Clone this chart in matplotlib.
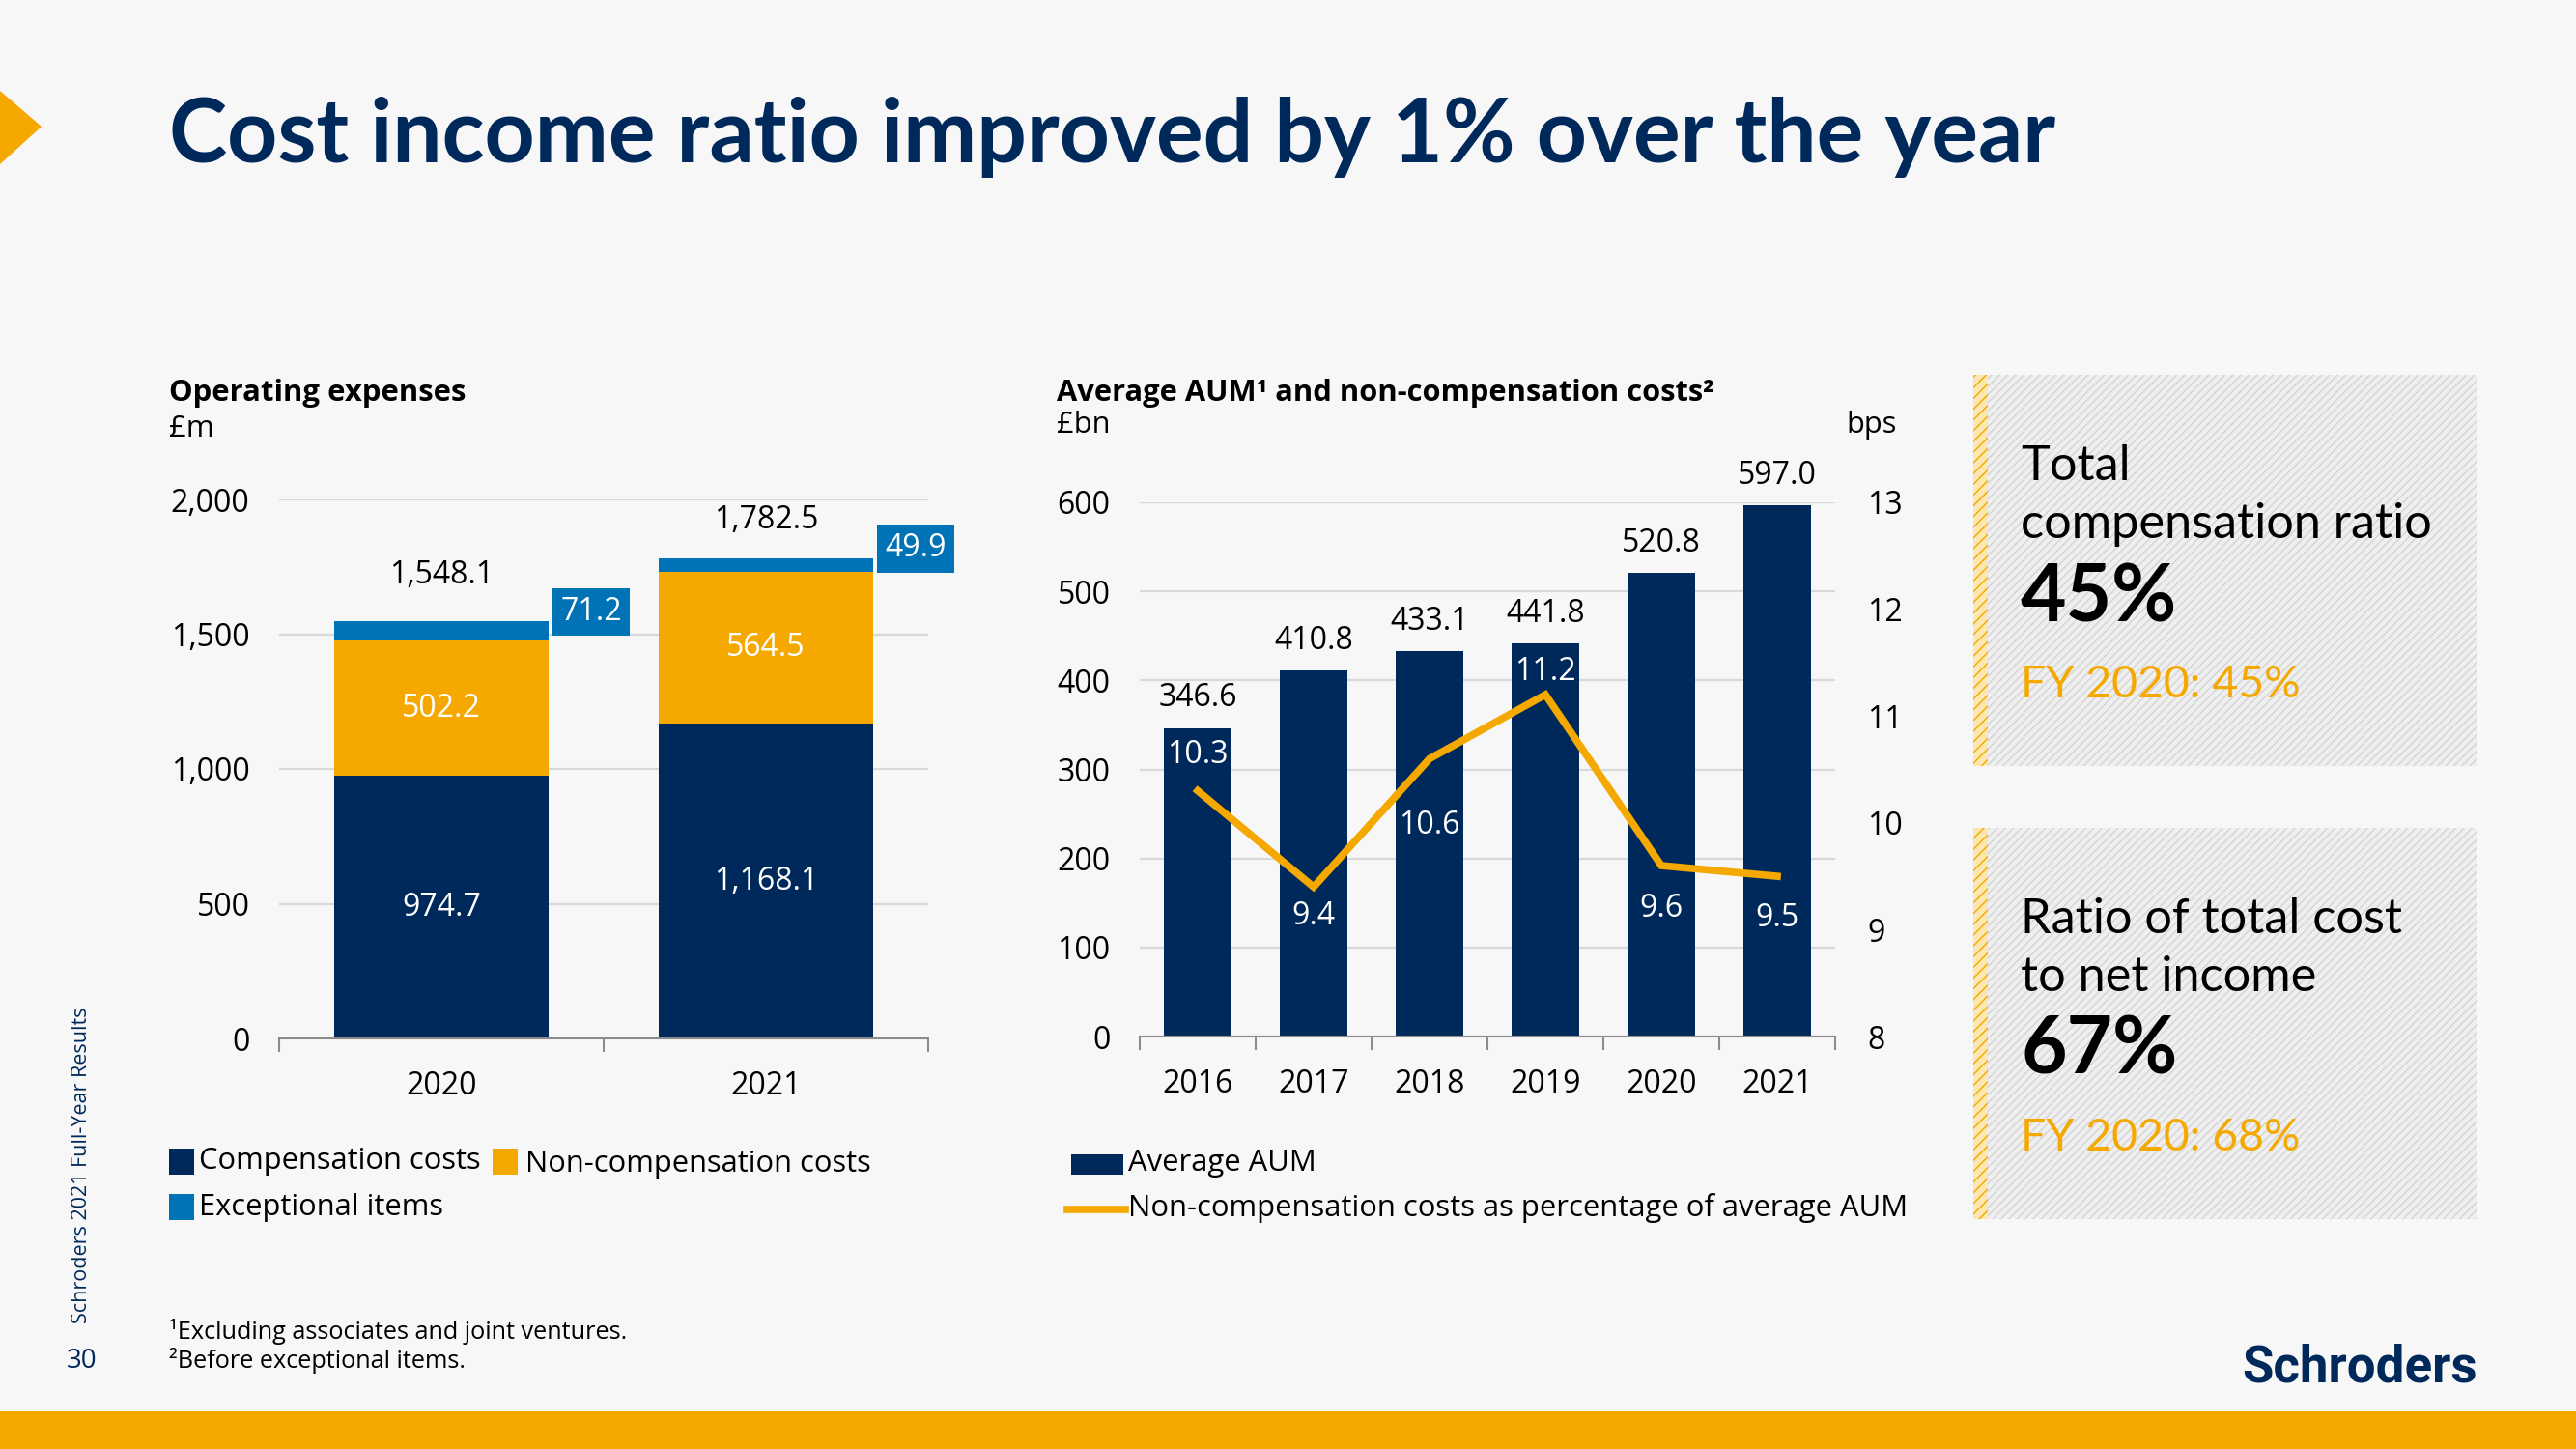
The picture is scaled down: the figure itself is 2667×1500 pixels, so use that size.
import numpy as np
import matplotlib.pyplot as plt
from matplotlib.patches import Rectangle, Polygon
from matplotlib.lines import Line2D

# page size in pixels
W, H = 2667, 1500

NAVY = '#00295b'
ORANGE = '#f5a800'
BLUE = '#0073b6'
GRID = '#d9d9d9'
AXIS = '#8c8c8c'
BG = '#f7f7f7'

# ---------------------------------------------------------
# DATA
# ---------------------------------------------------------
opex_years = ['2020', '2021']
compensation = [974.7, 1168.1]
non_compensation = [502.2, 564.5]
exceptional = [71.2, 49.9]
opex_totals = [1548.1, 1782.5]
opex_ticks = [0, 500, 1000, 1500, 2000]

aum_years = ['2016', '2017', '2018', '2019', '2020', '2021']
average_aum = [346.6, 410.8, 433.1, 441.8, 520.8, 597.0]
noncomp_bps = [10.3, 9.4, 10.6, 11.2, 9.6, 9.5]
aum_ticks = [0, 100, 200, 300, 400, 500, 600]
bps_ticks = [8, 9, 10, 11, 12, 13]

# label offsets (points): totals above bars, bps labels above / below the line
total_label_offsets = [34, 28]
bps_label_offsets = [27, -22, -50, 17, -32, -31]

plt.rcParams['font.family'] = ['Open Sans', 'DejaVu Sans']
BOX_FONT = ['Lato', 'DejaVu Sans']
FS = 23


def fx(x):
    return x / W


def fy(y):
    return 1 - y / H


def style_axis(ax):
    ax.set_facecolor('none')
    for s in ['top', 'right', 'left']:
        ax.spines[s].set_visible(False)
    ax.spines['bottom'].set_color(AXIS)
    ax.spines['bottom'].set_linewidth(1.5)
    ax.grid(axis='y', color=GRID, linewidth=1.6)
    ax.set_axisbelow(True)
    ax.tick_params(axis='y', length=0, labelsize=FS, pad=22, labelcolor='black')
    ax.tick_params(axis='x', which='major', length=0, labelsize=FS, pad=24)
    ax.tick_params(axis='x', which='minor', length=10, color=AXIS, width=1.5)


fig = plt.figure(figsize=(W / 100, H / 100), dpi=100, facecolor=BG)

# ---------------------------------------------------------
# HEADER / FOOTER
# ---------------------------------------------------------
fig.patches.append(Polygon([(fx(0), fy(94)), (fx(43), fy(131)), (fx(0), fy(170))],
                           closed=True, transform=fig.transFigure, facecolor=ORANGE, edgecolor='none'))
fig.text(fx(175), fy(168), 'Cost income ratio improved by 1% over the year', fontsize=65.5,
         fontweight='bold', color=NAVY, va='baseline', ha='left', family=BOX_FONT)

fig.patches.append(Rectangle((0, 0), 1, fy(1461), transform=fig.transFigure,
                             facecolor=ORANGE, edgecolor='none'))
fig.text(fx(85), fy(1206), 'Schroders 2021 Full-Year Results', rotation=90, fontsize=15.5,
         color=NAVY, ha='center', va='center')
fig.text(fx(85), fy(1409), '30', fontsize=20, color=NAVY, ha='center', va='center')
fig.text(fx(175), fy(1379), '¹Excluding associates and joint ventures.', fontsize=18.2, va='center')
fig.text(fx(175), fy(1409), '²Before exceptional items.', fontsize=18.2, va='center')
fig.text(fx(2565), fy(1416), 'Schroders', fontsize=38, fontweight='bold', color=NAVY,
         ha='right', va='center', family=['Roboto', 'DejaVu Sans'])

# ---------------------------------------------------------
# LEFT CHART — Operating expenses
# ---------------------------------------------------------
ax1 = fig.add_axes([fx(289), fy(1075), fx(961) - fx(289), fy(517) - fy(1075)])
style_axis(ax1)
x = np.arange(len(opex_years))
bw = 0.66
base2 = np.add(compensation, non_compensation)
ax1.bar(x, compensation, bw, color=NAVY)
ax1.bar(x, non_compensation, bw, bottom=compensation, color=ORANGE)
ax1.bar(x, exceptional, bw, bottom=base2, color=BLUE)
ax1.set_xlim(-0.5, len(opex_years) - 0.5)
ax1.set_ylim(0, 2000)
ax1.set_yticks(opex_ticks)
ax1.set_yticklabels([f'{v:,}' for v in opex_ticks])
ax1.set_xticks(x)
ax1.set_xticklabels(opex_years)
ax1.set_xticks(np.arange(-0.5, len(opex_years), 1), minor=True)

for i in range(len(opex_years)):
    ax1.text(x[i], compensation[i] / 2, f'{compensation[i]:,.1f}', ha='center', va='center',
             color='white', fontsize=FS)
    ax1.text(x[i], compensation[i] + non_compensation[i] / 2, f'{non_compensation[i]:,.1f}',
             ha='center', va='center', color='white', fontsize=FS)
    ax1.annotate(f'{opex_totals[i]:,.1f}', (x[i], opex_totals[i]),
                 xytext=(0, total_label_offsets[i]),
                 textcoords='offset points', ha='center', va='center', fontsize=FS)
    ax1.annotate(f'{exceptional[i]:,.1f}', (x[i] + bw / 2, opex_totals[i]), xytext=(9, 7),
                 textcoords='offset points', ha='left', va='center', fontsize=FS, color='white',
                 bbox=dict(boxstyle='square,pad=0.26', facecolor=BLUE, edgecolor='none'))

fig.text(fx(175), fy(407), 'Operating expenses', fontsize=22.4, fontweight='bold', va='center')
fig.text(fx(175), fy(444), '£m', fontsize=22.4, va='center')

# legend
legend_left = [(175, 1189, NAVY, 206, 1202, 'Compensation costs'),
               (510, 1189, ORANGE, 544, 1205, 'Non-compensation costs'),
               (175, 1236, BLUE, 206, 1250, 'Exceptional items')]
for rx, ry, col, tx, ty, lab in legend_left:
    fig.patches.append(Rectangle((fx(rx), fy(ry + 27)), 26 / W, 27 / H, transform=fig.transFigure,
                                 facecolor=col, edgecolor='none'))
    fig.text(fx(tx), fy(ty), lab, fontsize=22.2, va='center')

# ---------------------------------------------------------
# RIGHT CHART — Average AUM and non-compensation costs
# ---------------------------------------------------------
ax2 = fig.add_axes([fx(1180), fy(1073), fx(1900) - fx(1180), fy(520) - fy(1073)])
style_axis(ax2)
xa = np.arange(len(aum_years))
ax2.bar(xa, average_aum, 0.58, color=NAVY)
ax2.set_xlim(-0.5, len(aum_years) - 0.5)
ax2.set_ylim(0, 600)
ax2.set_yticks(aum_ticks)
ax2.set_xticks(xa)
ax2.set_xticklabels(aum_years)
ax2.set_xticks(np.arange(-0.5, len(aum_years), 1), minor=True)
for i, v in enumerate(average_aum):
    ax2.annotate(f'{v:.1f}', (xa[i], v), xytext=(0, 22), textcoords='offset points',
                 ha='center', va='center', fontsize=FS)

ax3 = ax2.twinx()
ax3.set_ylim(8, 13)
ax3.set_yticks(bps_ticks)
for s in ax3.spines.values():
    s.set_visible(False)
ax3.tick_params(axis='y', length=0, labelsize=FS, pad=24)
ax3.plot(xa, noncomp_bps, color=ORANGE, linewidth=5.5, solid_joinstyle='miter')
for i, v in enumerate(noncomp_bps):
    ax3.annotate(f'{v:.1f}', (xa[i], v), xytext=(0, bps_label_offsets[i]),
                 textcoords='offset points', ha='center', va='center', fontsize=FS, color='white')

fig.text(fx(1094), fy(407), 'Average AUM¹ and non-compensation costs²', fontsize=22.2,
         fontweight='bold', va='center')
fig.text(fx(1094), fy(440), '£bn', fontsize=22.2, va='center')
fig.text(fx(1911), fy(440), 'bps', fontsize=22.2, va='center')

# legend
fig.patches.append(Rectangle((fx(1109), fy(1216)), 54 / W, 21 / H, transform=fig.transFigure,
                             facecolor=NAVY, edgecolor='none'))
fig.text(fx(1168), fy(1204), 'Average AUM', fontsize=22.3, va='center')
fig.lines.append(Line2D([fx(1105), fx(1165)], [fy(1252), fy(1252)], transform=fig.transFigure,
                        color=ORANGE, linewidth=5.5))
fig.text(fx(1168), fy(1250), 'Non-compensation costs as percentage of average AUM', fontsize=22.3,
         va='center')

# ---------------------------------------------------------
# RIGHT KPI BOXES
# ---------------------------------------------------------
plt.rcParams['hatch.linewidth'] = 1.0
kpi_boxes = [
    (388, ['Total', 'compensation ratio'], '45%', 'FY 2020: 45%'),
    (857, ['Ratio of total cost', 'to net income'], '67%', 'FY 2020: 68%'),
]
for top, heading, big, prev in kpi_boxes:
    fig.patches.append(Rectangle((fx(2043), fy(top + 405)), fx(2565) - fx(2043), 405 / H,
                                 transform=fig.transFigure, facecolor='#efefef',
                                 edgecolor='#d4d4d4', hatch='////', linewidth=0))
    fig.patches.append(Rectangle((fx(2043), fy(top + 405)), 15 / W, 405 / H,
                                 transform=fig.transFigure, facecolor='#fde7b0',
                                 edgecolor=ORANGE, hatch='///', linewidth=0))
    fig.text(fx(2092), fy(top + 109), heading[0], fontsize=36.4, va='baseline', family=BOX_FONT)
    fig.text(fx(2092), fy(top + 169), heading[1], fontsize=36.4, va='baseline', family=BOX_FONT)
    fig.text(fx(2092), fy(top + 255), big, fontsize=59, fontweight='bold', va='baseline',
             family=BOX_FONT)
    fig.text(fx(2092), fy(top + 334), prev, fontsize=33.5, color=ORANGE, va='baseline',
             family=BOX_FONT)

fig.savefig('out.png', dpi=100, facecolor=BG)
